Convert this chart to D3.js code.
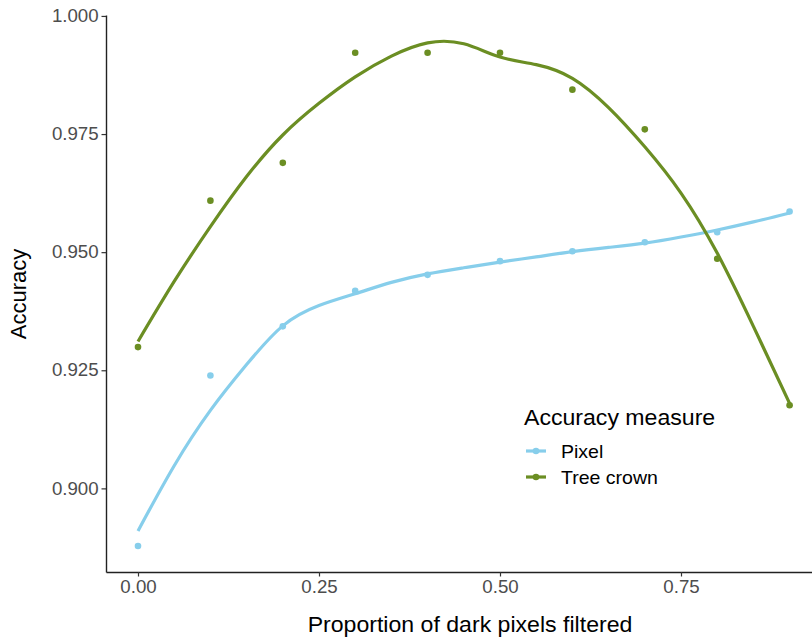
<!DOCTYPE html>
<html>
<head>
<meta charset="utf-8">
<script src="https://cdn.jsdelivr.net/npm/d3@7"></script>
<style>
  body { margin: 0; background: #fff; }
  svg text { font-family: "Liberation Sans", Arial, sans-serif; }
</style>
</head>
<body>
<div id="chart"></div>
<script>
// measured points
var proportion = [0, 0.1, 0.2, 0.3, 0.4, 0.5, 0.6, 0.7, 0.8, 0.9];
var pixelAcc = [0.8878, 0.9239, 0.9343, 0.9418, 0.9452, 0.9481, 0.9502, 0.9521, 0.9542, 0.9586];
var crownAcc = [0.9299, 0.9609, 0.9689, 0.9922, 0.9922, 0.9922, 0.9844, 0.9760, 0.9486, 0.9176];

// smoothed curves
var smoothX = [0, 0.05, 0.1, 0.15, 0.2, 0.25, 0.3, 0.35, 0.4, 0.45, 0.5, 0.55, 0.6, 0.65, 0.7, 0.75, 0.8, 0.85, 0.9];
var pixelSmooth = [0.8910, 0.9048, 0.9165, 0.9262, 0.9344, 0.9387, 0.9412, 0.9436, 0.9454, 0.9467, 0.9479, 0.9490, 0.9501, 0.9510, 0.9519, 0.9532, 0.9547, 0.9564, 0.9583];
var crownSmooth = [0.9311, 0.9438, 0.9554, 0.9660, 0.9748, 0.9815, 0.9871, 0.9915, 0.9943, 0.9941, 0.9913, 0.9897, 0.9868, 0.9806, 0.9723, 0.9625, 0.9498, 0.9343, 0.9180];

var xTicks = [0, 0.25, 0.5, 0.75];
var yTicks = [0.900, 0.925, 0.950, 0.975, 1.000];

var seriesNames = ["Pixel", "Tree crown"];
var seriesColors = ["#87CEEB", "#6B8E23"];

var width = 812, height = 638;
var stretch = "scale(1.05,1)";

var svg = d3.select("#chart").append("svg")
    .attr("width", width)
    .attr("height", height);

var x = d3.scaleLinear().domain([-0.0442, 0.9442]).range([106, 821.6]);
var y = d3.scaleLinear().domain([0.8823, 1.0002]).range([572, 15]);

// axes
var yAxis = svg.append("g")
    .attr("transform", "translate(106,0)")
    .call(d3.axisLeft(y).tickValues(yTicks).tickFormat(d3.format(".3f"))
      .tickSize(4.5).tickSizeOuter(0).tickPadding(2.5));
var xAxis = svg.append("g")
    .attr("transform", "translate(0,572)")
    .call(d3.axisBottom(x).tickValues(xTicks).tickFormat(d3.format(".2f"))
      .tickSize(4.5).tickSizeOuter(0).tickPadding(4.2));

[xAxis, yAxis].forEach(function(ax) {
  ax.select(".domain").attr("stroke", "#222").attr("stroke-width", 1.4);
  ax.selectAll(".tick line").attr("stroke", "#333").attr("stroke-width", 1.2);
  ax.selectAll(".tick text")
    .attr("fill", "#4D4D4D")
    .style("font-size", "17.8px")
    .attr("font-family", null)
    .attr("transform", stretch);
});

// axis titles
svg.append("text")
    .attr("transform", "translate(470,632) " + stretch)
    .attr("text-anchor", "middle")
    .style("font-size", "22px")
    .attr("fill", "#000")
    .text("Proportion of dark pixels filtered");

svg.append("text")
    .attr("transform", "translate(26,294) rotate(-90)")
    .attr("text-anchor", "middle")
    .style("font-size", "22px")
    .attr("fill", "#000")
    .text("Accuracy");

// smooth lines
var line = d3.line()
    .x(function(d) { return x(d[0]); })
    .y(function(d) { return y(d[1]); })
    .curve(d3.curveNatural);

var smooths = [pixelSmooth, crownSmooth];
var points = [pixelAcc, crownAcc];

smooths.forEach(function(vals, i) {
  svg.append("path")
      .datum(smoothX.map(function(px, j) { return [px, vals[j]]; }))
      .attr("d", line)
      .attr("fill", "none")
      .attr("stroke", seriesColors[i])
      .attr("stroke-width", 3.2);
});

points.forEach(function(vals, i) {
  svg.append("g").selectAll("circle")
      .data(proportion.map(function(px, j) { return [px, vals[j]]; }))
      .enter()
      .append("circle")
      .attr("cx", function(d) { return x(d[0]); })
      .attr("cy", function(d) { return y(d[1]); })
      .attr("r", 3.3)
      .attr("fill", seriesColors[i]);
});

// legend
var legend = svg.append("g");
legend.append("text")
    .attr("transform", "translate(524,425) " + stretch)
    .style("font-size", "22px")
    .attr("fill", "#000")
    .text("Accuracy measure");

seriesNames.forEach(function(name, i) {
  var ky = 451 + i * 26;
  legend.append("line")
      .attr("x1", 526).attr("x2", 546)
      .attr("y1", ky).attr("y2", ky)
      .attr("stroke", seriesColors[i])
      .attr("stroke-width", 3.2);
  legend.append("circle")
      .attr("cx", 536).attr("cy", ky)
      .attr("r", 3.3)
      .attr("fill", seriesColors[i]);
  legend.append("text")
      .attr("transform", "translate(561," + (ky + 6.5) + ") " + stretch)
      .style("font-size", "18.6px")
      .attr("fill", "#000")
      .text(name);
});
</script>
</body>
</html>
